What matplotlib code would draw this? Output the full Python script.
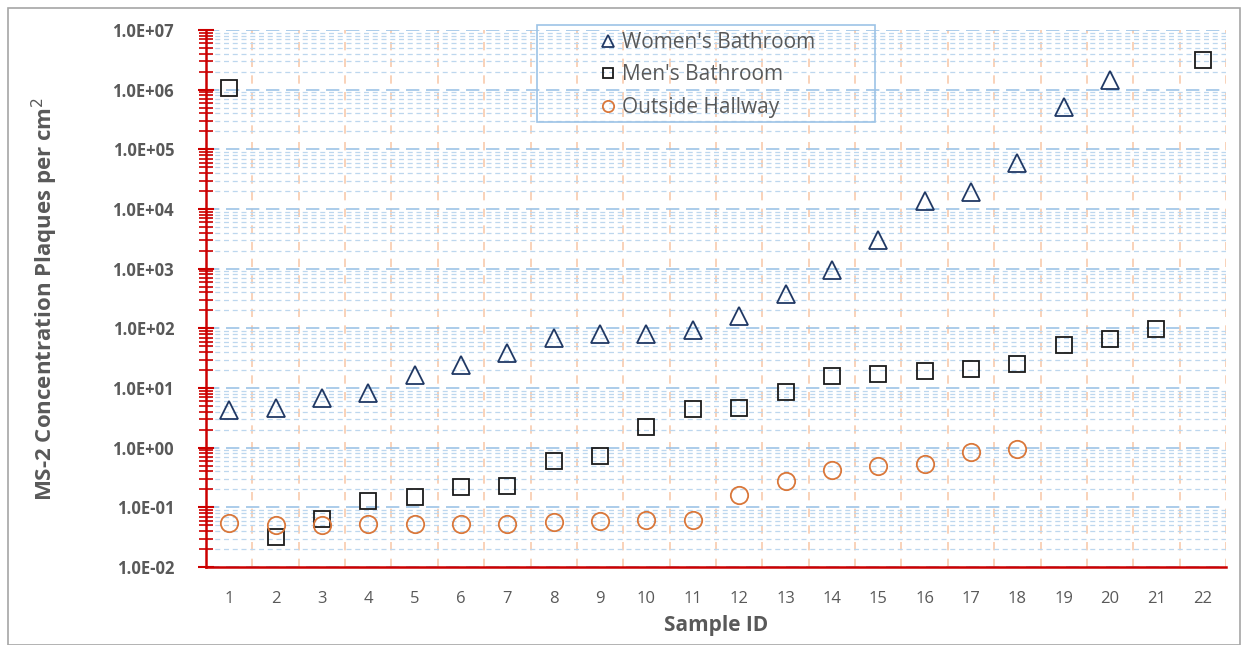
import matplotlib.pyplot as plt
import matplotlib.ticker as mticker
import numpy as np

plt.rcParams['font.family'] = ['Open Sans', 'DejaVu Sans']

sample_ids = list(range(1, 23))
women = [4.3, 4.6, 6.8, 8.3, 16.6, 24, 39, 69, 81, 81, 92, 162, 380, 950,
         3000, 13500, 19000, 59000, 510000, 1.45e6]
men = [1.07e6, 0.032, 0.063, 0.13, 0.148, 0.22, 0.23, 0.6, 0.73, 2.2, 4.5, 4.6,
       8.5, 16, 17, 19.5, 21, 25, 52, 66, 98, 3.2e6]
hallway = [0.055, 0.05, 0.05, 0.052, 0.052, 0.052, 0.052, 0.056, 0.058, 0.062,
           0.062, 0.16, 0.28, 0.42, 0.49, 0.53, 0.85, 0.95]

gray = '#595959'
fig = plt.figure(figsize=(12.5, 6.45), dpi=100)
ax = fig.add_axes([206/1250, 1-567/645, 1020/1250, 537/645])

ax.plot(sample_ids[:len(women)], women, ls='none', marker='^', ms=13, mfc='none',
        mec='#203864', mew=1.3, label="Women's Bathroom")
ax.plot(sample_ids[:len(men)], men, ls='none', marker='s', ms=11, mfc='none',
        mec='#1a1a1a', mew=1.3, label="Men's Bathroom")
ax.plot(sample_ids[:len(hallway)], hallway, ls='none', marker='o', ms=12.5, mfc='none',
        mec='#d9773a', mew=1.3, label='Outside Hallway')

ax.set_yscale('log')
ax.set_ylim(1e-2, 1e7)
ax.set_xlim(0.5, 22.5)

ax.yaxis.set_major_locator(mticker.LogLocator(base=10, numticks=20))
ax.yaxis.set_minor_locator(mticker.LogLocator(base=10, subs=np.arange(2, 10), numticks=20))
ax.yaxis.set_major_formatter(mticker.FuncFormatter(lambda v, p: '%.1E' % v))
ax.yaxis.set_minor_formatter(mticker.NullFormatter())

ax.set_xticks(sample_ids)
ax.set_xticks(np.arange(1.5, 23, 1), minor=True)
ax.tick_params(axis='x', which='both', length=0, labelsize=12, labelcolor=gray, pad=17)
ax.tick_params(axis='y', which='major', direction='inout', length=12, width=1.5,
               color='#cc0000', labelsize=12, labelcolor=gray, pad=17)
ax.tick_params(axis='y', which='minor', direction='inout', length=10, width=1.2,
               color='#cc0000')
for lbl in ax.get_yticklabels():
    lbl.set_fontweight('bold')

ax.grid(axis='y', which='major', color='#9dc3e6', ls=(0, (8, 4)), lw=1.2)
ax.grid(axis='y', which='minor', color='#bdd7ee', ls=(0, (4, 3)), lw=0.9)
ax.grid(axis='x', which='minor', color='#f8cbad', ls=(0, (5, 5)), lw=1.2)
ax.grid(axis='x', which='major', visible=False)
ax.set_axisbelow(True)

for s in ['top', 'right']:
    ax.spines[s].set_visible(False)
ax.spines['left'].set_color('#cc0000')
ax.spines['left'].set_linewidth(1.8)
ax.spines['bottom'].set_color('#cc0000')
ax.spines['bottom'].set_linewidth(1.8)

ax.set_xlabel('Sample ID', fontsize=15, fontweight='bold', color=gray, labelpad=6)
ax.set_ylabel('MS-2 Concentration Plaques per cm$^2$', fontsize=16, fontweight='bold',
              color=gray, labelpad=38)

# legend box drawn separately so its frame is as wide as in the reference
fig.patches.append(plt.Rectangle((537/1250, 1-122/645), 338/1250, 97/645,
                                 transform=fig.transFigure, fill=False, ec='#9dc3e6',
                                 lw=1.2, zorder=5))
leg = ax.legend(loc='upper left', bbox_to_anchor=(595/1250, 1-32/645),
                bbox_transform=fig.transFigure, frameon=False, fontsize=15,
                handletextpad=0.1, markerscale=0.65, borderpad=0, labelspacing=0.55,
                handlelength=1.2, borderaxespad=0)
for t in leg.get_texts():
    t.set_color(gray)

fig.patches.append(plt.Rectangle((8/1250, 0), 1232/1250, 1-8/645, transform=fig.transFigure,
                                 fill=False, ec='#a6a6a6', lw=1.2))

fig.savefig('out.png', dpi=100)
